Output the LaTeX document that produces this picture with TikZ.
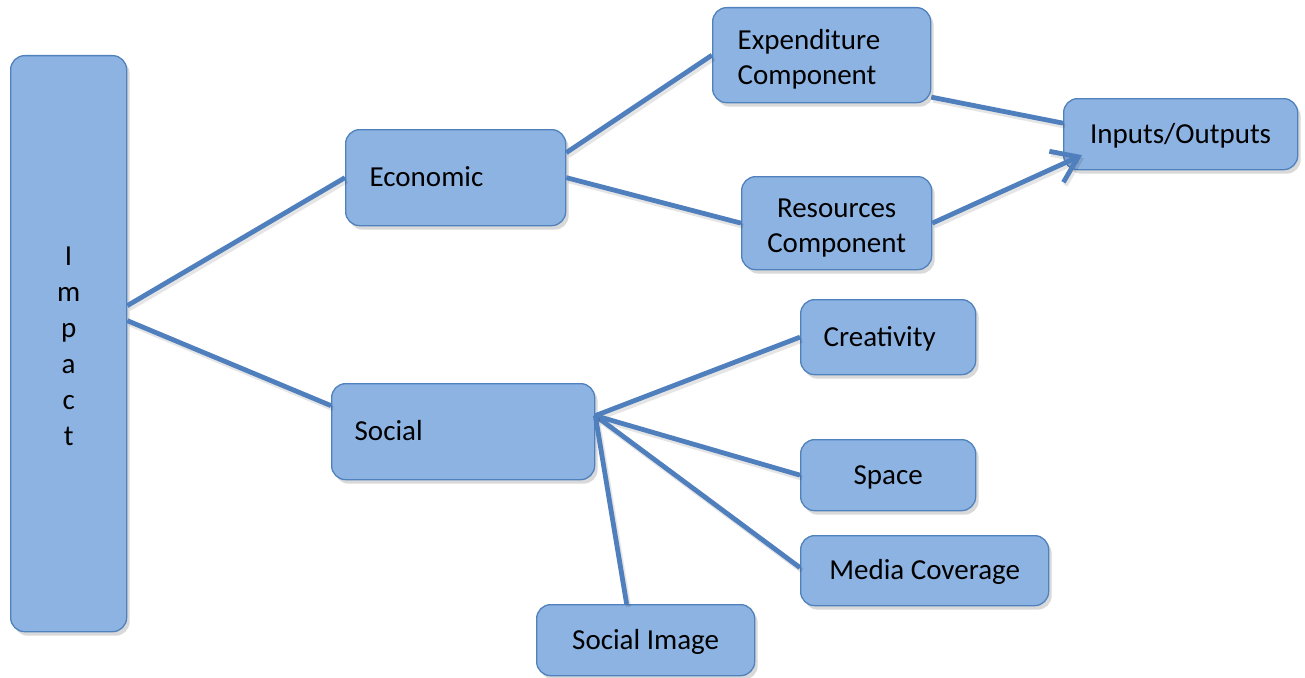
\documentclass[tikz,border=0pt]{standalone}
\usepackage{fontspec}
\setmainfont{Carlito}
\usetikzlibrary{arrows.meta,shadows}
\definecolor{boxfill}{HTML}{8DB3E2}
\definecolor{boxline}{HTML}{4F81BD}
\definecolor{conn}{HTML}{4F7FBC}
\tikzset{
  box/.style={draw=boxline, fill=boxfill, line width=1.3pt, rounded corners=14pt,
    anchor=north west, inner sep=0pt, text=black,
    font=\fontsize{29}{35}\selectfont, align=center,
    drop shadow={shadow xshift=3pt, shadow yshift=-4pt, opacity=0.25, fill=black!60}},
  oneline/.style={text height=24pt, text depth=6pt},
  twoline/.style={text height=29pt},
  link/.style={draw=conn, line width=4.8pt,
    preaction={draw=black, opacity=0.10, line width=5pt, transform canvas={xshift=2pt,yshift=-3pt}}},
}
\begin{document}
\begin{tikzpicture}[x=1pt,y=-1pt]
\useasboundingbox (0,0) rectangle (1305,677);
% nodes (boxes)
\node[box, minimum width=116pt, minimum height=576pt, text width=60pt, text height=23pt, font=\fontsize{29}{36}\selectfont] (impact) at (10,55) {I\\m\\p\\a\\c\\t};
\node[box, oneline, minimum width=220pt, minimum height=96pt, text width=172pt, align=left] (econ) at (345,129) {Economic};
\node[box, oneline, minimum width=263pt, minimum height=96pt, text width=217pt, align=left] (soc) at (331,383) {Social};
\node[box, twoline, minimum width=218pt, minimum height=95pt, text width=168pt, align=left] (exp) at (712,7) {Expenditure\\Component};
\node[box, twoline, minimum width=190pt, minimum height=93pt, text width=160pt] (res) at (741,176) {Resources\\Component};
\node[box, oneline, minimum width=234pt, minimum height=71pt] (io) at (1063,98) {Inputs/Outputs};
\node[box, oneline, minimum width=175pt, minimum height=75pt, text width=129pt, align=left] (creat) at (800,299) {Creativity};
\node[box, oneline, minimum width=175pt, minimum height=71pt] (space) at (800,439) {Space};
\node[box, oneline, minimum width=248pt, minimum height=70pt] (media) at (800,535) {Media Coverage};
\node[box, oneline, minimum width=218pt, minimum height=71pt] (simg) at (536,604) {Social Image};
% connectors
\draw[link] ([yshift=38pt]impact.east) -- (econ.west);
\draw[link] ([yshift=23pt]impact.east) -- ([yshift=26pt]soc.west);
\draw[link] ([yshift=25pt]econ.east) -- (exp.west);
\draw[link] (econ.east) -- (res.west);
\draw[link] ([yshift=-42pt]exp.east) -- ([yshift=11pt]io.west);
\draw[link, -{Straight Barb[length=24pt,width=34pt]}] (res.east) -- ([xshift=19pt,yshift=-21pt]io.west);
\draw[link] ([yshift=16pt]soc.east) -- (creat.west);
\draw[link] ([yshift=16pt]soc.east) -- (space.west);
\draw[link] ([yshift=16pt]soc.east) -- ([yshift=3pt]media.west);
\draw[link] ([yshift=16pt]soc.east) -- ([xshift=-19pt]simg.north);
\end{tikzpicture}
\end{document}
